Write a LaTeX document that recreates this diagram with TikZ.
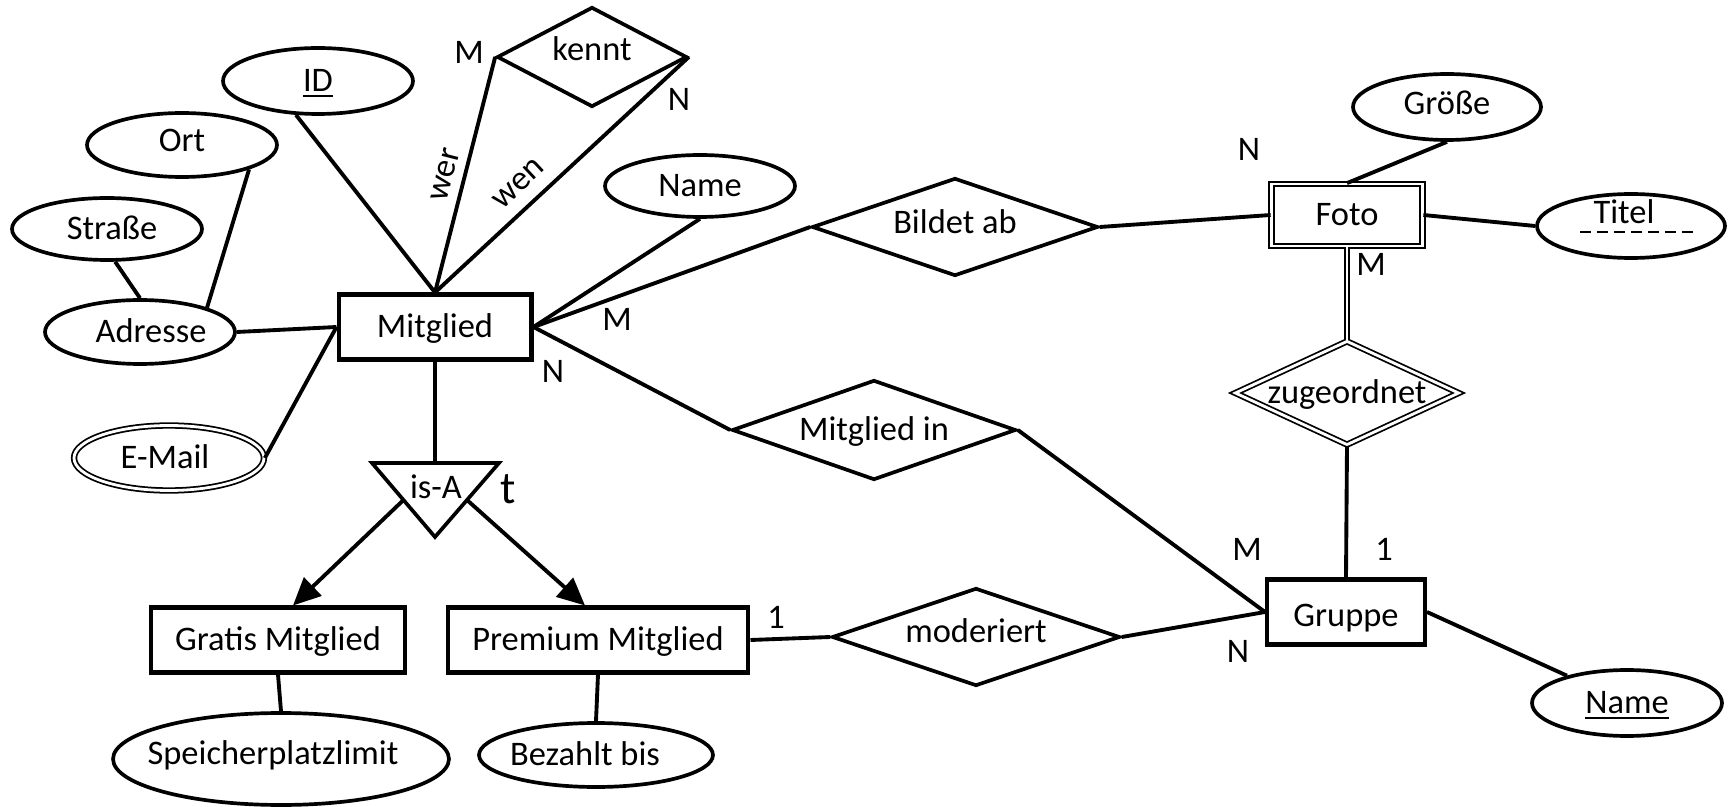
\documentclass[tikz,border=0pt]{standalone}
\usepackage{fontspec}
\setmainfont{Carlito}
\usetikzlibrary{shapes.geometric,arrows.meta,calc}
\newcommand{\txo}[3]{\makebox[0pt]{\raisebox{\dimexpr-0.22cm+#2\relax}[0pt][0pt]{\hspace*{#1}\hspace*{#1}#3}}}
\newcommand{\tx}[1]{\txo{0pt}{0pt}{#1}}
\newcommand{\ulx}[1]{\setbox0\hbox{#1}\rlap{\raisebox{-0.1cm}{\rule{\wd0}{1.3pt}}}\box0}
\begin{document}
\begin{tikzpicture}[x=0.02cm,y=-0.02cm,
  every node/.style={font=\fontsize{19.6}{23}\selectfont, inner sep=0pt},
  ent/.style={draw, line width=2.3pt, rectangle, minimum height=1.3cm},
  att/.style={draw, line width=2.1pt, ellipse},
  rel/.style={draw, line width=2.1pt, diamond},
  dbl/.style={double, line width=1pt, double distance=1.6pt},
  lnk/.style={line width=2.2pt},
  arr/.style={line width=2.2pt, -{Triangle[length=0.55cm,width=0.5cm]}}]

\fill[white] (0,0) rectangle (1732,807);
\useasboundingbox (0,0) rectangle (1732,807);

% entities
\node[ent, minimum width=3.86cm] (mit) at (435,327) {\tx{Mitglied}};
\node[ent, minimum width=5.08cm] (gratis) at (278,640) {\tx{Gratis Mitglied}};
\node[ent, minimum width=6.02cm] (prem) at (598,640) {\tx{Premium Mitglied}};
\node[ent, minimum width=3.16cm] (grp) at (1346,612) {\txo{0pt}{-0.08cm}{Gruppe}};
\node[draw, dbl, rectangle, minimum width=3.02cm, minimum height=1.24cm] (foto) at (1347,215) {\tx{Foto}};

% attributes
\node[att, minimum width=3.8cm, minimum height=1.32cm] (id) at (318,81) {\tx{\ulx{ID}}};
\node[att, minimum width=3.8cm, minimum height=1.28cm] (ort) at (182,145) {\txo{0pt}{0.08cm}{Ort}};
\node[att, minimum width=3.8cm, minimum height=1.24cm] (str) at (107,229) {\txo{0.1cm}{0pt}{Straße}};
\node[att, minimum width=3.8cm, minimum height=1.28cm] (adr) at (140,332) {\txo{0.22cm}{0pt}{Adresse}};
\node[draw, dbl, ellipse, minimum width=3.8cm, minimum height=1.3cm] (mail) at (169,458) {\txo{-0.08cm}{0pt}{E-Mail}};
\node[att, minimum width=3.8cm, minimum height=1.24cm] (name) at (700,186) {\tx{Name}};
\node[att, minimum width=3.76cm, minimum height=1.32cm] (groesse) at (1447,107) {\txo{0pt}{0.06cm}{Größe}};
\node[att, minimum width=3.76cm, minimum height=1.28cm] (titel) at (1631,226) {\txo{-0.14cm}{0.26cm}{Titel}};
\node[att, minimum width=3.8cm, minimum height=1.32cm] (gname) at (1627,703) {\tx{\ulx{Name}}};
\node[att, minimum width=6.72cm, minimum height=1.84cm] (speich) at (281,759) {\txo{-0.16cm}{0.12cm}{Speicherplatzlimit}};
\node[att, minimum width=4.68cm, minimum height=1.28cm] (bez) at (596,755) {\txo{-0.22cm}{0pt}{Bezahlt bis}};

% relationships
\node[rel, minimum width=3.8cm, minimum height=2cm] (kennt) at (592,57) {\txo{0pt}{0.14cm}{kennt}};
\node[rel, minimum width=5.72cm, minimum height=1.96cm] (bild) at (955,227) {\txo{0pt}{0.08cm}{Bildet ab}};
\node[rel, minimum width=5.68cm, minimum height=2cm] (mitin) at (874,430) {\tx{Mitglied in}};
\node[rel, minimum width=5.76cm, minimum height=1.96cm] (mod) at (976,637) {\txo{0pt}{0.1cm}{moderiert}};
\node[draw, dbl, diamond, minimum width=4.48cm, minimum height=2.08cm] (zug) at (1347,393) {\tx{zugeordnet}};

% is-A
\coordinate (isaL) at (372,463);
\coordinate (isaR) at (499,463);
\coordinate (isaB) at (435,537);
\coordinate (isatop) at (435,463);
\draw[line width=2.1pt] (isaL) -- (isaR) -- (isaB) -- cycle;
\node (isa) at (436,488) {\tx{is-A}};
\node[font=\fontsize{26}{30}\selectfont] (tlab) at (508,490) {\txo{0pt}{-0.06cm}{t}};
\coordinate (isaeL) at ($(isaL)!0.5!(isaB)$);
\coordinate (isaeR) at ($(isaR)!0.5!(isaB)$);

% connectors
\draw[lnk] (id.-123) -- (mit.north);
\draw[lnk] (ort.-20) -- (adr.20);
\draw[lnk] (str.-76) -- (adr.north);
\draw[lnk] (adr.east) -- (mit.west);
\draw[lnk] (mail.east) -- (mit.west);
\draw[lnk] (mit.north) -- node[sloped, above=0.17cm, pos=0.48] (wer) {wer} (kennt.west);
\draw[lnk] (mit.north) -- node[sloped, above=0.25cm, pos=0.39] (wen) {wen} (kennt.east);
\draw[lnk] (name.south) -- (mit.east);
\draw[lnk] (mit.east) -- (bild.west);
\draw[lnk] (mit.east) -- (mitin.west);
\draw[lnk] (bild.east) -- (foto.west);
\draw[lnk] (groesse.south) -- (foto.north);
\draw[lnk] (foto.east) -- (titel.west);
\draw[dbl] (foto.south) -- (zug.north);
\draw[lnk] (zug.south) -- (grp.north);
\draw[lnk] (mitin.east) -- (grp.west);
\draw[lnk] (mod.east) -- (grp.west);
\draw[lnk] (grp.east) -- (gname);
\draw[lnk] (prem.east) -- (mod.west);
\draw[lnk] (gratis.south) -- (speich.north);
\draw[lnk] (prem.south) -- (bez.north);
\draw[lnk] (mit.south) -- (isatop);
\draw[arr] (isaeL) -- ($(gratis.north)+(15,0)$);
\draw[arr] (isaeR) -- ($(prem.north)+(-13,0)$);

% dashed underline of Titel
\draw[line width=1.6pt, dash pattern=on 0.22cm off 0.12cm] ($(titel.center)+(-51,6)$) -- ($(titel.center)+(63,6)$);

% cardinalities
\node (c1) at (469,53) {\tx{M}};
\node (c2) at (679,100) {\tx{N}};
\node (c3) at (617,320) {\tx{M}};
\node (c4) at (553,372) {\tx{N}};
\node (c5) at (1249,150) {\tx{N}};
\node (c6) at (1371,265) {\tx{M}};
\node (c7) at (1247,550) {\tx{M}};
\node (c8) at (1384,550) {\tx{1}};
\node (c9) at (1238,652) {\tx{N}};
\node (c10) at (776,618) {\tx{1}};
\end{tikzpicture}
\end{document}
